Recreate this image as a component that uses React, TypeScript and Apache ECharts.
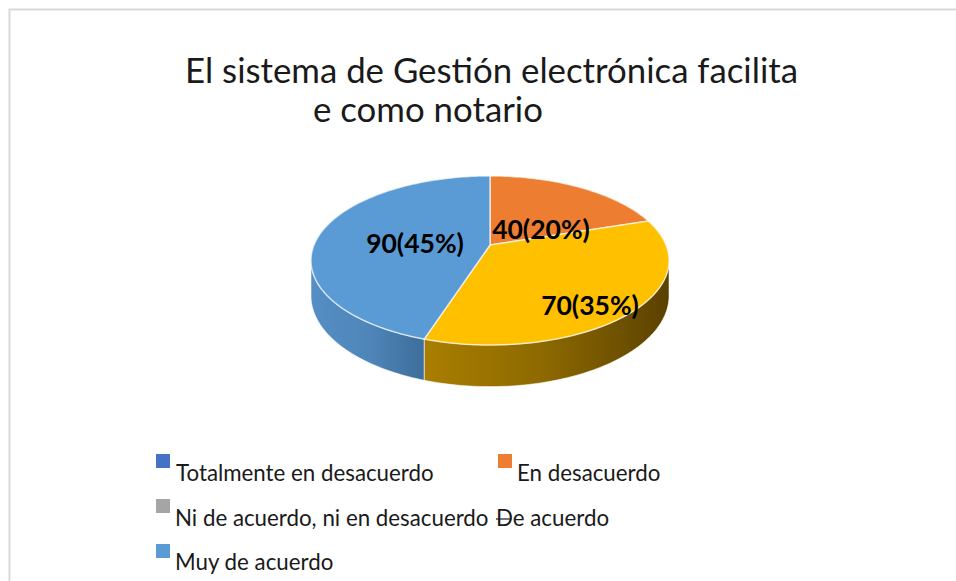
import React, { useEffect, useRef } from "react";
import * as echarts from "echarts";

const categories = ["Totalmente en desacuerdo", "En desacuerdo", "Ni de acuerdo, ni en desacuerdo", "De acuerdo", "Muy de acuerdo"];
const values = [0, 40, 0, 70, 90];
const titleLines = ["El sistema de Gestión electrónica facilita", "e como notario"];

const topColors = ["#4472C4", "#ED7D31", "#A5A5A5", "#FFC000", "#5B9BD5"];
const wallStops: Record<number, string[]> = {
  3: ["#A97E00", "#8C6800", "#5A4100"],
  4: ["#558EC4", "#4F86BA", "#3D6E9B"],
  1: ["#A85A24", "#A85A24", "#A85A24"],
};
const labelAnchors: Record<number, [number, number]> = { 1: [541, 229], 3: [590, 305], 4: [415, 243] };
const legendLayout = [
  { sx: 156, sy: 454, tx: 176, ty: 472.5, marker: true },
  { sx: 498, sy: 454, tx: 517, ty: 472.5, marker: true },
  { sx: 156, sy: 499, tx: 175, ty: 517.5, marker: true },
  { sx: 0, sy: 0, tx: 496, ty: 517.5, marker: false },
  { sx: 156, sy: 544, tx: 175, ty: 561, marker: true },
];

const CX = 490, CY = 245, A = 176, B = 81.7, K = 0.183, DEPTH = 34;
const FONT = "Lato";
const total = values.reduce((a, b) => a + b, 0);
const project = (t: number, drop = 0): [number, number] => {
  const X = Math.sin(t), Y = Math.cos(t), w = 1 + K * Y;
  return [CX + (A * X) / w, CY - (B * Y) / w + (drop ? DEPTH / w : 0)];
};
const arcPoints = (a: number, b: number, drop = 0) => {
  const n = Math.max(2, Math.ceil(Math.abs(b - a) / 0.02));
  const out: [number, number][] = [];
  for (let i = 0; i <= n; i++) out.push(project(a + ((b - a) * i) / n, drop));
  return out;
};
const FRONT_A = Math.acos(-K);
const FRONT_B = 2 * Math.PI - FRONT_A;

function renderItem(params: any, api: any) {
  const i = params.dataIndex;
  const v = values[i];
  if (!v) return { type: "group", children: [] };
  const before = values.slice(0, i).reduce((a, b) => a + b, 0);
  const start = (before / total) * 2 * Math.PI;
  const end = ((before + api.value(0)) / total) * 2 * Math.PI;
  const children: any[] = [];
  const a = Math.max(start, FRONT_A), b = Math.min(end, FRONT_B);
  if (b > a) {
    const stops = wallStops[i];
    children.push({
      type: "polygon",
      z2: 1,
      shape: { points: [...arcPoints(a, b), ...arcPoints(b, a, 1)] },
      style: {
        fill: new echarts.graphic.LinearGradient(0, 0, 1, 0, [
          { offset: 0, color: stops[0] },
          { offset: 0.5, color: stops[1] },
          { offset: 1, color: stops[2] },
        ]),
        stroke: "rgba(255,255,255,0.55)",
        lineWidth: 1,
      },
    });
  }
  children.push({
    type: "polygon",
    z2: 2,
    shape: { points: [[CX, CY], ...arcPoints(start, end)] },
    style: { fill: topColors[i], stroke: "rgba(255,255,255,0.65)", lineWidth: 1.5 },
  });
  const pos = labelAnchors[i];
  children.push({
    type: "text",
    z2: 10,
    x: pos[0],
    y: pos[1],
    style: {
      text: `${v}(${Math.round((v / total) * 100)}%)`,
      fill: "#000",
      font: `bold 26.5px ${FONT}`,
      align: "center",
      verticalAlign: "middle",
    },
  });
  return { type: "group", children };
}

export default function App() {
  const ref = useRef<HTMLDivElement>(null);
  useEffect(() => {
    const chart = echarts.init(ref.current!, null, { renderer: "svg" });
    const graphic: any[] = [
      { type: "polyline", z: 0, shape: { points: [[9.5, 581], [9.5, 9.5], [956, 9.5]] }, style: { fill: "none", stroke: "#D9D9D9", lineWidth: 2 } },
    ];
    categories.forEach((name, i) => {
      const l = legendLayout[i];
      if (l.marker) {
        graphic.push({ type: "rect", shape: { x: l.sx, y: l.sy, width: 14, height: 14 }, style: { fill: topColors[i] } });
      }
      graphic.push({
        type: "text",
        x: l.tx,
        y: l.ty,
        style: { text: name, fill: "#1a1a1a", font: `22.3px ${FONT}`, align: "left", verticalAlign: "middle" },
      });
    });
    graphic.push({ type: "line", shape: { x1: 496, y1: 519, x2: 510, y2: 519 }, style: { stroke: "#1a1a1a", lineWidth: 1.2 } });
    chart.setOption({
      animation: false,
      backgroundColor: "#fff",
      title: [
        { text: titleLines[0], left: 180, top: 47, textStyle: { fontFamily: FONT, fontSize: 34.8, fontWeight: "normal", color: "#1a1a1a" } },
        { text: titleLines[1], left: 308, top: 86, textStyle: { fontFamily: FONT, fontSize: 34.8, fontWeight: "normal", color: "#1a1a1a" } },
      ],
      graphic,
      series: [
        {
          type: "custom",
          coordinateSystem: "none",
          renderItem,
          data: values.map((v, i) => ({ name: categories[i], value: [v] })),
        },
      ],
    });
    return () => chart.dispose();
  }, []);
  return <div ref={ref} style={{ position: "fixed", left: 0, top: 0, width: 956, height: 581 }} />;
}
